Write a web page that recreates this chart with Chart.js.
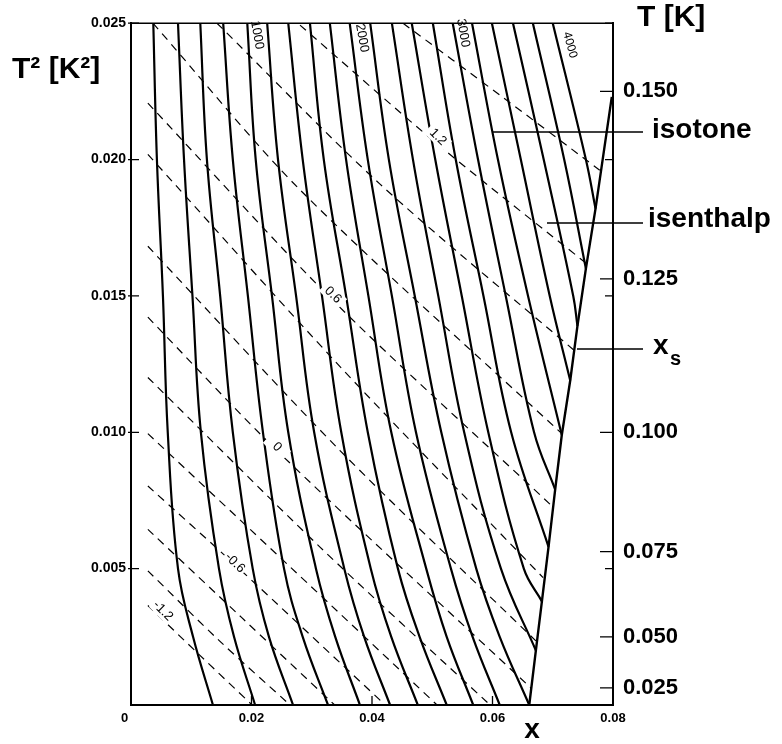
<!DOCTYPE html>
<html>
<head>
<meta charset="utf-8">
<script src="https://cdn.jsdelivr.net/npm/chart.js@4.4.1/dist/chart.umd.min.js"></script>
<style>
  html, body { margin: 0; padding: 0; background: #fff; }
  #wrap { width: 782px; height: 744px; }
</style>
</head>
<body>
<div id="wrap"><canvas id="chart" width="782" height="744"></canvas></div>
<script>
// axes
const xTicks = [0, 0.02, 0.04, 0.06, 0.08]
const xTickLabels = ['0\u2002\u2002', '0.02', '0.04', '0.06', '0.08']
const t2Ticks = [0.005, 0.01, 0.015, 0.02, 0.025]
const t2TickLabels = ['0.005', '0.010', '0.015', '0.020', '0.025']
const tTicks = [0.025, 0.05, 0.075, 0.1, 0.125, 0.15]
const tTickLabels = ['0.025', '0.050', '0.075', '0.100', '0.125', '0.150']

// isotones: x read at these T^2 levels (null = already ended on x_s)
const isotoneLevels = [0.025, 0.02, 0.015, 0.01, 0.005, 0.0025, 0]
const isotoneValues = [200, 400, 600, 800, 1000, 1200, 1400, 1600, 1800, 2000,
                       2200, 2400, 2600, 2800, 3000, 3200, 3400, 3600, 3800, 4000]
const isotoneX = [
    [0.0037, 0.0043, 0.0053, 0.0061, 0.0078, 0.0103, 0.0136],
    [0.0078, 0.0088, 0.0102, 0.0116, 0.0146, 0.0171, 0.0206],
    [0.0115, 0.0126, 0.0148, 0.0169, 0.0202, 0.0229, 0.0269],
    [0.0153, 0.0169, 0.0194, 0.0219, 0.0254, 0.0285, 0.0327],
    [0.0193, 0.0207, 0.0234, 0.0261, 0.0307, 0.0339, 0.0380],
    [0.0226, 0.0244, 0.0274, 0.0304, 0.0354, 0.0387, 0.0430],
    [0.0261, 0.0285, 0.0317, 0.0349, 0.0398, 0.0432, 0.0476],
    [0.0297, 0.0320, 0.0357, 0.0393, 0.0443, 0.0479, 0.0524],
    [0.0330, 0.0357, 0.0394, 0.0432, 0.0490, 0.0524, 0.0568],
    [0.0363, 0.0393, 0.0433, 0.0473, 0.0531, 0.0567, 0.0612],
    [0.0397, 0.0428, 0.0471, 0.0515, 0.0573, 0.0612, 0.0661],
    [0.0433, 0.0468, 0.0510, 0.0553, 0.0614, null, null],
    [0.0466, 0.0505, 0.0549, 0.0593, 0.0652, null, null],
    [0.0501, 0.0539, 0.0585, 0.0631, null, null, null],
    [0.0534, 0.0576, 0.0622, 0.0669, null, null, null],
    [0.0566, 0.0609, 0.0659, null, null, null, null],
    [0.0599, 0.0647, 0.0695, null, null, null, null],
    [0.0634, 0.0685, 0.0734, null, null, null, null],
    [0.0667, 0.0719, null, null, null, null, null],
    [0.0700, 0.0755, null, null, null, null, null],
]
// where the isotones stop on the x_s line [x, T^2]
const isotoneEnds = [null, null, null, null, null, null, null, null, null, null, null,
    [0.0672, 0.0020], [0.0682, 0.0038], [0.0693, 0.0058], [0.0704, 0.0079],
    [0.0715, 0.0099], [0.0729, 0.0119], [0.0741, 0.0139], [0.0755, 0.0160],
    [0.0771, 0.0182]]

// phase separation line x_s
const xsX = [0.0661, 0.0672, 0.0682, 0.0693, 0.0704, 0.0715, 0.0729, 0.0741, 0.0755, 0.0771, 0.0798]
const xsT2 = [0, 0.0020, 0.0038, 0.0058, 0.0079, 0.0099, 0.0119, 0.0139, 0.0160, 0.0182, 0.0223]

// isenthalps (dashed): start, middle and end points [x, T^2]
const isenthalpValues = [-1.2, -1.0, -0.8, -0.6, -0.4, -0.2, 0, 0.2, 0.4, 0.6, 0.8, 1.0, 1.2, 1.4]
const isenthalpStart = [
    [0.0028, 0.00365], [0.0028, 0.00492], [0.0028, 0.00644], [0.0028, 0.00803],
    [0.0028, 0.00995], [0.0028, 0.01201], [0.0028, 0.01422], [0.0028, 0.01682],
    [0.0028, 0.02019], [0.0028, 0.02207], [0.00365, 0.0250], [0.01427, 0.0250],
    [0.02805, 0.02493], [0.04515, 0.0250]]
const isenthalpMid = [
    [0.0114, 0.00183], [0.0146, 0.00237], [0.0183, 0.00322], [0.01726, 0.00514],
    [0.02639, 0.00507], [0.03137, 0.00579], [0.02423, 0.00933], [0.03469, 0.00933],
    [0.03469, 0.01241], [0.03353, 0.01483], [0.02805, 0.01889], [0.04133, 0.0191],
    [0.05095, 0.02055], [0.06124, 0.02236]]
const isenthalpEnd = [
    [0.0201, 0], [0.0264, 0], [0.0338, 0], [0.0422, 0], [0.0508, 0], [0.0596, 0],
    [0.0664, 0.00062], [0.0672, 0.00235], [0.0684, 0.00467], [0.0700, 0.00727],
    [0.0715, 0.00995], [0.0740, 0.01292], [0.0757, 0.01617], [0.0778, 0.01961]]

const FONT = "'Liberation Sans', Arial, Helvetica, sans-serif"

var datasets = []
isotoneValues.forEach(function(v, i) {
    var pts = []
    isotoneLevels.forEach(function(t2, k) {
        if (isotoneX[i][k] !== null) pts.push({x: isotoneX[i][k], y: t2})
    })
    if (isotoneEnds[i]) pts.push({x: isotoneEnds[i][0], y: isotoneEnds[i][1]})
    datasets.push({
        label: 'isotone ' + v,
        data: pts,
        borderColor: '#000',
        borderWidth: 2.2,
        pointRadius: 0,
        tension: 0.4,
    })
})
isenthalpValues.forEach(function(v, i) {
    datasets.push({
        label: 'isenthalp ' + v,
        data: [isenthalpStart[i], isenthalpMid[i], isenthalpEnd[i]].map(function(p) {
            return {x: p[0], y: p[1]}
        }),
        borderColor: '#000',
        borderWidth: 1.2,
        borderDash: [8, 6],
        pointRadius: 0,
        tension: 0.3,
    })
})
datasets.push({
    label: 'x_s',
    data: xsX.map(function(x, i) { return {x: x, y: xsT2[i]} }),
    borderColor: '#000',
    borderWidth: 2.4,
    pointRadius: 0,
})

function text(ctx, s, x, y, font, align, angle) {
    ctx.save()
    ctx.translate(x, y)
    if (angle) ctx.rotate(angle * Math.PI / 180)
    ctx.font = font
    ctx.textAlign = align || 'left'
    ctx.textBaseline = 'middle'
    ctx.fillText(s, 0, 0)
    ctx.restore()
}

const decor = {
    id: 'decor',
    afterDraw(chart) {
        const ctx = chart.ctx
        const area = chart.chartArea
        const sx = chart.scales.x
        const sy = chart.scales.y
        ctx.save()
        ctx.strokeStyle = '#000'
        ctx.fillStyle = '#000'

        // top frame line
        ctx.lineWidth = 1.5
        ctx.beginPath()
        ctx.moveTo(area.left, area.top)
        ctx.lineTo(area.right, area.top)
        ctx.stroke()

        // inward tick marks
        ctx.lineWidth = 1.3
        ctx.beginPath()
        ;[0.02, 0.04, 0.06].forEach(function(v) {
            var px = sx.getPixelForValue(v)
            ctx.moveTo(px, area.bottom)
            ctx.lineTo(px, area.bottom - 9)
        })
        t2Ticks.forEach(function(v) {
            var py = sy.getPixelForValue(v)
            ctx.moveTo(area.left - 3, py)
            ctx.lineTo(area.left + 8, py)
            ctx.moveTo(area.right, py)
            ctx.lineTo(area.right - 8, py)
        })
        tTicks.forEach(function(t) {
            var py = sy.getPixelForValue(t * t)
            ctx.moveTo(area.right, py)
            ctx.lineTo(area.right - 13, py)
        })
        ctx.stroke()

        // leader lines
        ctx.lineWidth = 1.3
        ctx.beginPath()
        ctx.moveTo(493, 132); ctx.lineTo(643, 132)
        ctx.moveTo(547, 223); ctx.lineTo(643, 223)
        ctx.moveTo(577, 349); ctx.lineTo(643, 349)
        ctx.stroke()

        // titles and annotations
        text(ctx, 'T [K]', 637, 18, 'bold 30px ' + FONT)
        text(ctx, 'T\u00b2 [K\u00b2]', 12, 70, 'bold 30px ' + FONT)
        text(ctx, 'isotone', 652, 130, 'bold 28px ' + FONT)
        text(ctx, 'isenthalp', 648, 219, 'bold 28px ' + FONT)
        text(ctx, 'x', 653, 346, 'bold 28px ' + FONT)
        text(ctx, 's', 670, 359, 'bold 20px ' + FONT)
        text(ctx, 'x', 532, 730, 'bold 28px ' + FONT, 'center')

        // contour labels
        var small = '13px ' + FONT
        text(ctx, '1000', 257, 35, small, 'center', 80)
        text(ctx, '2000', 362, 38, small, 'center', 80)
        text(ctx, '3000', 463, 33, small, 'center', 80)
        text(ctx, '4000', 570, 45, '12px ' + FONT, 'center', 75)

        var hl = [['-1.2', 163, 611], ['-0.6', 235, 563], ['0', 277, 447], ['0.6', 333, 295], ['1.2', 438, 137]]
        hl.forEach(function(l) {
            ctx.save()
            ctx.fillStyle = '#fff'
            ctx.translate(l[1], l[2])
            ctx.rotate(45 * Math.PI / 180)
            ctx.fillRect(-13, -7, 26, 14)
            ctx.restore()
            text(ctx, l[0], l[1], l[2], small, 'center', 45)
        })
        ctx.restore()
    }
}

new Chart(document.getElementById('chart'), {
    type: 'line',
    data: {datasets: datasets},
    options: {
        responsive: false,
        animation: false,
        layout: {padding: {top: 14, left: 0, right: 0, bottom: 0}},
        plugins: {legend: {display: false}, tooltip: {enabled: false}},
        scales: {
            x: {
                type: 'linear',
                min: 0,
                max: 0.08,
                afterBuildTicks: function(scale) {
                    scale.ticks = xTicks.map(function(v) { return {value: v} })
                },
                afterFit: function(scale) { scale.height = 39 },
                grid: {display: false, drawTicks: false},
                border: {display: true, color: '#000', width: 2},
                ticks: {
                    autoSkip: false,
                    maxRotation: 0,
                    padding: 6,
                    color: '#000',
                    font: {family: FONT, size: 13, weight: 'bold'},
                    callback: function(v, i) { return xTickLabels[i] },
                },
            },
            y: {
                type: 'linear',
                min: 0,
                max: 0.025,
                afterBuildTicks: function(scale) {
                    scale.ticks = t2Ticks.map(function(v) { return {value: v} })
                },
                afterFit: function(scale) { scale.width = 131 },
                grid: {display: false, drawTicks: false},
                border: {display: true, color: '#000', width: 2},
                ticks: {
                    autoSkip: false,
                    padding: 5,
                    color: '#000',
                    font: {family: FONT, size: 14, weight: 'bold'},
                    callback: function(v, i) { return t2TickLabels[i] },
                },
            },
            yT: {
                type: 'linear',
                position: 'right',
                min: 0,
                max: 0.025,
                afterBuildTicks: function(scale) {
                    scale.ticks = tTicks.map(function(t) { return {value: t * t} })
                },
                afterFit: function(scale) { scale.width = 169 },
                grid: {display: false, drawTicks: false},
                border: {display: true, color: '#000', width: 2},
                ticks: {
                    autoSkip: false,
                    padding: 10,
                    color: '#000',
                    font: {family: FONT, size: 22, weight: 'bold'},
                    callback: function(v, i) { return tTickLabels[i] },
                },
            },
        },
    },
    plugins: [decor],
})
</script>
</body>
</html>
